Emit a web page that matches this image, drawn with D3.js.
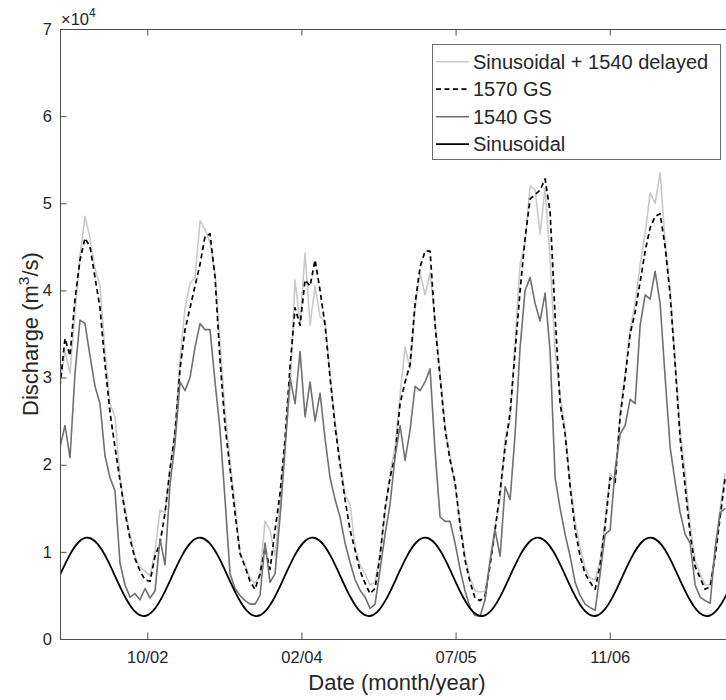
<!DOCTYPE html>
<html>
<head>
<meta charset="utf-8">
<script src="https://cdn.jsdelivr.net/npm/d3@7"></script>
<style>
  body { margin: 0; background: #fff; }
  svg { display: block; }
  text { font-family: "Liberation Sans", Arial, sans-serif; fill: #262626; }
</style>
</head>
<body>
<svg id="chart" width="726" height="700"></svg>
<script>
// time axis: first sample / visible span (UTC days)
const startDate = Date.UTC(2002, 0, 5)
const endDate = Date.UTC(2007, 11, 5)
const dayMs = 864e5
const sampleDays = 16.22 // spacing of the discharge samples
const sineDays = 30.44 // monthly spacing of the sinusoid samples

const tickDates = ["2002-10-15", "2004-02-27", "2005-07-11", "2006-11-23"]
const yTicks = [0, 10000, 20000, 30000, 40000, 50000, 60000, 70000]

const seriesNames = ["Sinusoidal + 1540 delayed", "1570 GS", "1540 GS", "Sinusoidal"]

// monthly samples (m3/s)
const sinusoid = [
  7350, 9570, 11130, 11620, 10910, 9190, 6910, 4700, 3130, 2640, 3350, 5070,
  7350, 9570, 11130, 11620, 10910, 9190, 6910, 4700, 3130, 2640, 3350, 5070,
  7350, 9570, 11130, 11620, 10910, 9190, 6910, 4700, 3130, 2640, 3350, 5070,
  7350, 9570, 11130, 11620, 10910, 9190, 6910, 4700, 3130, 2640, 3350, 5070,
  7350, 9570, 11130, 11620, 10910, 9190, 6910, 4700, 3130, 2640, 3350, 5070,
  7350, 9570, 11130, 11620, 10910, 9190, 6910, 4700, 3130, 2640, 3350, 5070,
  7350
]

const gs1570 = [
  29000, 34500, 32500, 39000, 43500, 46000, 45000, 41500, 38000, 31500,
  26000, 22000, 18200, 14500, 11500, 9200, 7800, 6800, 6600, 9500,
  11000, 14500, 19500, 23600, 31000, 35500, 38000, 40500, 43000, 46200,
  46500, 41500, 32000, 24500, 19500, 14400, 9800, 8300, 6600, 5700,
  7500, 10500, 8000, 12500, 16700, 23000, 31300, 38000, 36000, 41200,
  40500, 43500, 40000, 36000, 30000, 24400, 20000, 16000, 12500, 10200,
  7800, 6400, 5200, 5800, 9500, 15000, 18500, 21000, 27000, 29500,
  31500, 38500, 42700, 44500, 44500, 36000, 30000, 24000, 20500, 18000,
  13000, 9000, 6500, 4700, 4400, 5000, 8500, 12500, 17000, 22000,
  26000, 33000, 40000, 46000, 50500, 51000, 51500, 52800, 49000, 37000,
  27000, 23500, 17500, 12500, 9500, 7500, 6500, 5700, 8500, 13000,
  18500, 18000, 25500, 30000, 35000, 37500, 41000, 44500, 47200, 48500,
  48800, 45000, 39500, 31500, 23000, 17500, 12000, 8300, 7000, 5700,
  6000, 9500, 14000, 18500
]

const gs1540 = [
  22000, 24500, 20800, 30500, 36600, 36200, 32500, 29000, 27000, 21000,
  18500, 17000, 8700, 6200, 4800, 5200, 4500, 5800, 4700, 5500,
  11500, 8500, 17800, 22500, 29500, 28500, 30000, 33500, 36200, 35500,
  35500, 29500, 24000, 16000, 7500, 5800, 5000, 4400, 4000, 4000,
  5000, 11000, 6500, 7500, 14000, 21700, 30000, 27000, 33000, 25500,
  29500, 25000, 28200, 23000, 18500, 16000, 14000, 11000, 8800, 6800,
  5600, 4800, 3500, 4000, 8000, 12000, 15500, 21000, 24500, 20500,
  24000, 29000, 28500, 29500, 31000, 21500, 14000, 13500, 13500, 11000,
  8000, 5500, 3600, 2700, 2600, 4500, 9000, 12500, 9500, 17500,
  16000, 23500, 33500, 40000, 41500, 38500, 36500, 39700, 33000, 18500,
  15000, 12000, 9500, 6500, 5000, 4000, 3600, 3300, 7500, 12000,
  12500, 19500, 23500, 24500, 27500, 27000, 36000, 39500, 39000, 42200,
  38500, 30000, 22000, 18000, 14500, 12000, 11000, 6200, 4800, 4400,
  4100, 10500, 14500, 15000
]

const delayed = [
  29500, 33000, 30500, 37500, 44000, 48500, 46000, 42500, 40500, 33000,
  27000, 25500, 18500, 15000, 12000, 9500, 8200, 7800, 7200, 10000,
  14800, 14500, 19500, 24000, 32000, 38000, 40800, 41500, 48000, 47000,
  45500, 42000, 34000, 26000, 20500, 15500, 10000, 8500, 7000, 6400,
  7200, 13500, 12500, 9500, 15500, 22500, 28500, 41200, 36200, 44300,
  36000, 40500, 37000, 36500, 30500, 25000, 20500, 16500, 15500, 10500,
  8500, 7500, 6200, 6500, 10000, 14500, 19000, 22000, 28000, 33500,
  31000, 38000, 42000, 39500, 42000, 36500, 30500, 24500, 21000, 17500,
  13500, 9500, 7000, 5500, 5400, 5500, 9000, 13000, 16000, 23000,
  25000, 34000, 43000, 45500, 52000, 51500, 46500, 51800, 43500, 33000,
  28000, 24000, 18000, 13500, 10500, 8200, 7000, 6800, 9000, 13500,
  19000, 18000, 26000, 30500, 35500, 38500, 43000, 46500, 51200, 50000,
  53500, 45500, 40000, 32000, 24000, 19000, 13000, 9000, 7500, 6200,
  6200, 10000, 15000, 19000
]

const plot = { left: 60, top: 29, right: 726, bottom: 639 }
const svg = d3.select("#chart")

const x = d3
  .scaleUtc()
  .domain([new Date(startDate), new Date(endDate)])
  .range([plot.left, plot.right])
const y = d3.scaleLinear().domain([0, 70000]).range([plot.bottom, plot.top])

svg
  .append("defs")
  .append("clipPath")
  .attr("id", "clip")
  .append("rect")
  .attr("x", plot.left)
  .attr("y", plot.top)
  .attr("width", plot.right - plot.left)
  .attr("height", plot.bottom - plot.top)

const sampleLine = d3
  .line()
  .x((d, i) => x(new Date(startDate + i * sampleDays * dayMs)))
  .y((d) => y(d))

const sineLine = d3
  .line()
  .x((d, i) => x(new Date(startDate + i * sineDays * dayMs)))
  .y((d) => y(d))
  .curve(d3.curveNatural)

/*
  Lines, in plotting order
*/
const series = [
  { data: delayed, line: sampleLine, color: "#c9c9c9", width: 1.6, dash: null },
  { data: gs1570, line: sampleLine, color: "#000", width: 1.7, dash: "5,3.5" },
  { data: gs1540, line: sampleLine, color: "#707070", width: 1.6, dash: null },
  { data: sinusoid, line: sineLine, color: "#000", width: 1.8, dash: null },
]

const lines = svg.append("g").attr("clip-path", "url(#clip)")
series.forEach((s) => {
  lines
    .append("path")
    .datum(s.data)
    .attr("fill", "none")
    .attr("stroke", s.color)
    .attr("stroke-width", s.width)
    .attr("stroke-dasharray", s.dash)
    .attr("stroke-linejoin", "round")
    .attr("d", s.line)
})

/*
  Axes (ticks pointing inward, MATLAB style)
*/
const tickValues = tickDates.map((d) => new Date(d + "T00:00:00Z"))

const xAxis = svg
  .append("g")
  .attr("transform", "translate(0," + plot.bottom + ")")
  .call(
    d3
      .axisBottom(x)
      .tickValues(tickValues)
      .tickFormat(d3.utcFormat("%m/%y"))
      .tickSizeInner(-6.5)
      .tickSizeOuter(0)
      .tickPadding(12)
  )

const xTop = svg
  .append("g")
  .attr("transform", "translate(0," + plot.top + ")")
  .call(
    d3
      .axisTop(x)
      .tickValues(tickValues)
      .tickFormat("")
      .tickSizeInner(-6.5)
      .tickSizeOuter(0)
  )

const yAxis = svg
  .append("g")
  .attr("transform", "translate(" + plot.left + ",0)")
  .call(
    d3
      .axisLeft(y)
      .tickValues(yTicks)
      .tickFormat((d) => d / 10000)
      .tickSizeInner(-6.5)
      .tickSizeOuter(0)
      .tickPadding(8)
  )

;[xAxis, xTop, yAxis].forEach((g) => {
  g.select(".domain").attr("stroke", "#4d4d4d").attr("stroke-width", 1)
  g.selectAll(".tick line").attr("stroke", "#4d4d4d")
  g.selectAll(".tick text")
    .style("font-size", "16.5px")
    .attr("fill", "#262626")
})

// exponent label
const expo = svg
  .append("text")
  .attr("x", plot.left + 1)
  .attr("y", 25)
  .style("font-size", "16.5px")
expo.append("tspan").text("\u00d710")
expo
  .append("tspan")
  .attr("dy", -8)
  .style("font-size", "12px")
  .text("4")

// axis labels
svg
  .append("text")
  .attr("x", 397)
  .attr("y", 690)
  .attr("text-anchor", "middle")
  .style("font-size", "22px")
  .text("Date (month/year)")

const yLabel = svg
  .append("text")
  .attr("transform", "translate(38," + (plot.top + plot.bottom) / 2 + ") rotate(-90)")
  .attr("text-anchor", "middle")
  .style("font-size", "22px")
yLabel.append("tspan").text("Discharge (m")
yLabel
  .append("tspan")
  .attr("dy", -9)
  .style("font-size", "15.5px")
  .text("3")
yLabel.append("tspan").attr("dy", 9).text("/s)")

/*
  Legend
*/
const legend = svg.append("g")
legend
  .append("rect")
  .attr("x", 432.5)
  .attr("y", 44.5)
  .attr("width", 288)
  .attr("height", 115)
  .attr("fill", "#fff")
  .attr("stroke", "#6b6b6b")
  .attr("stroke-width", 1)

seriesNames.forEach((name, i) => {
  const s = series[i]
  const rowY = 61.7 + i * 27.5
  legend
    .append("line")
    .attr("x1", 436)
    .attr("x2", 469)
    .attr("y1", rowY)
    .attr("y2", rowY)
    .attr("stroke", s.color)
    .attr("stroke-width", s.width)
    .attr("stroke-dasharray", s.dash)
  legend
    .append("text")
    .attr("x", 473)
    .attr("y", rowY)
    .attr("dy", "0.36em")
    .style("font-size", "20px")
    .text(name)
})
</script>
</body>
</html>
